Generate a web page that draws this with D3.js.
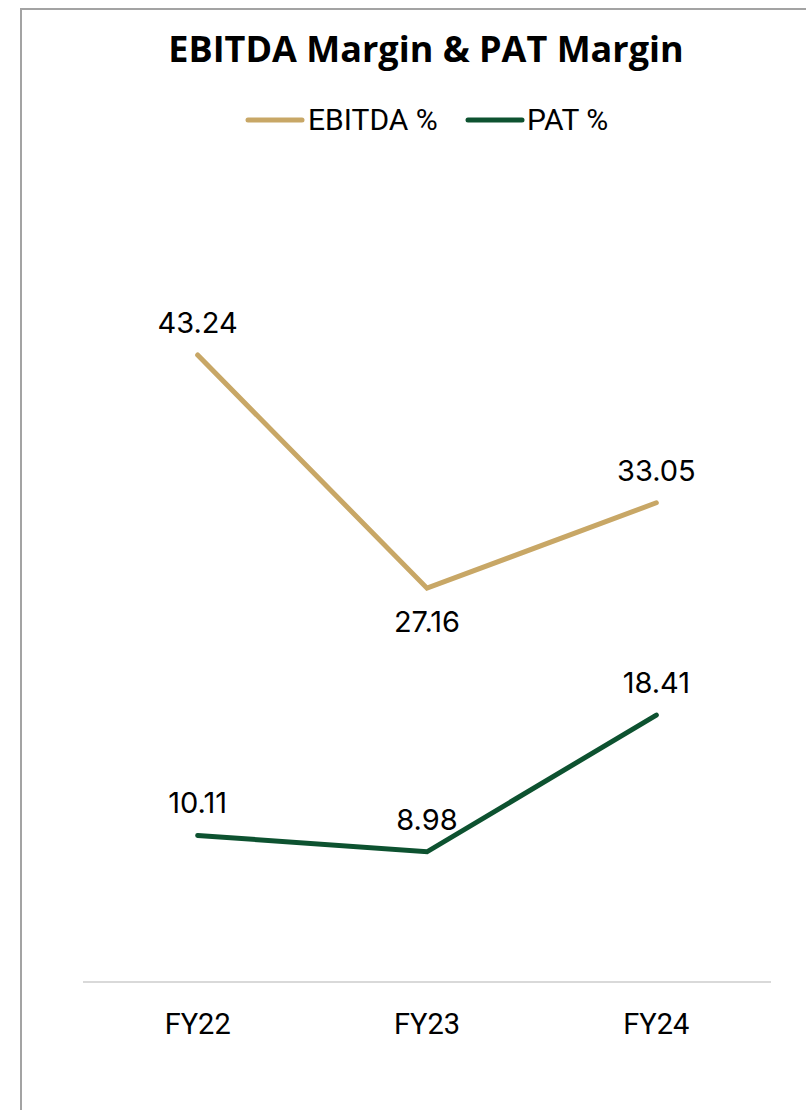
<!DOCTYPE html>
<html>
<head>
<meta charset="utf-8">
<script src="https://cdn.jsdelivr.net/npm/d3@7/dist/d3.min.js"></script>
<style>
  html, body { margin: 0; padding: 0; background: #ffffff; }
  svg { display: block; }
</style>
</head>
<body>
<div id="chart"></div>
<script>
// Fiscal years and margin series (%)
const categories = ["FY22", "FY23", "FY24"];
const ebitdaPct = [43.24, 27.16, 33.05];
const patPct = [10.11, 8.98, 18.41];
const seriesNames = ["EBITDA %", "PAT %"];
const seriesColors = ["#c8a766", "#0d5230"];

const W = 806, H = 1110;
const svg = d3.select("#chart").append("svg")
  .attr("width", W).attr("height", H);

// chart frame (left and top edges visible)
svg.append("path")
  .attr("d", `M21,${H} L21,9 L${W},9`)
  .attr("fill", "none")
  .attr("stroke", "#a3a3a3")
  .attr("stroke-width", 2);

const plot = { left: 83, right: 771, top: 257, bottom: 982 };

const x = d3.scaleBand().domain(categories)
  .range([plot.left, plot.right]).padding(0);
const y = d3.scaleLinear().domain([0, 50])
  .range([plot.bottom, plot.top]);
const cx = d => x(d) + x.bandwidth() / 2;

// title
svg.append("text")
  .attr("x", 426).attr("y", 62)
  .attr("text-anchor", "middle")
  .attr("font-family", "'Open Sans', 'Noto Sans', sans-serif")
  .attr("font-weight", 700)
  .attr("font-size", 36)
  .attr("fill", "#000")
  .text("EBITDA Margin & PAT Margin");

// legend
const legendItems = [
  { name: seriesNames[0], color: seriesColors[0], x0: 248, tx: 308 },
  { name: seriesNames[1], color: seriesColors[1], x0: 468, tx: 527 }
];
const lg = svg.append("g");
legendItems.forEach(it => {
  lg.append("line")
    .attr("x1", it.x0).attr("x2", it.x0 + 54)
    .attr("y1", 120).attr("y2", 120)
    .attr("stroke", it.color).attr("stroke-width", 5)
    .attr("stroke-linecap", "round");
  lg.append("text")
    .attr("x", it.tx).attr("y", 130)
    .attr("font-family", "'Liberation Sans Narrow', 'Roboto', sans-serif")
    .attr("font-size", 30)
    .attr("fill", "#000")
    .text(it.name);
});

// x axis
const xAxis = d3.axisBottom(x).tickSize(0).tickPadding(0);
const gx = svg.append("g")
  .attr("transform", `translate(0,${plot.bottom})`)
  .call(xAxis);
gx.select(".domain")
  .attr("d", `M${plot.left},0H${plot.right}`)
  .attr("stroke", "#d9d9d9").attr("stroke-width", 2);
gx.selectAll(".tick text")
  .attr("y", 52)
  .attr("dy", 0)
  .attr("font-family", "'Liberation Sans Narrow', 'Roboto', sans-serif")
  .attr("font-size", 29)
  .attr("fill", "#000");

// lines
const line = d3.line()
  .x((d, i) => cx(categories[i]))
  .y(d => y(d));

const series = [
  { values: ebitdaPct, color: seriesColors[0], labelPos: ["above", "below", "above"] },
  { values: patPct, color: seriesColors[1], labelPos: ["above", "above", "above"] }
];

series.forEach(s => {
  svg.append("path")
    .datum(s.values)
    .attr("d", line)
    .attr("fill", "none")
    .attr("stroke", s.color)
    .attr("stroke-width", 5)
    .attr("stroke-linecap", "round")
    .attr("stroke-linejoin", "miter");

  svg.append("g").selectAll("text")
    .data(s.values)
    .join("text")
    .attr("x", (d, i) => cx(categories[i]))
    .attr("y", (d, i) => s.labelPos[i] === "above" ? y(d) - 22 : y(d) + 44)
    .attr("text-anchor", "middle")
    .attr("font-family", "'Inter', 'Noto Sans', sans-serif")
    .attr("font-size", 29)
    .attr("fill", "#000")
    .text(d => d.toFixed(2));
});
</script>
</body>
</html>
